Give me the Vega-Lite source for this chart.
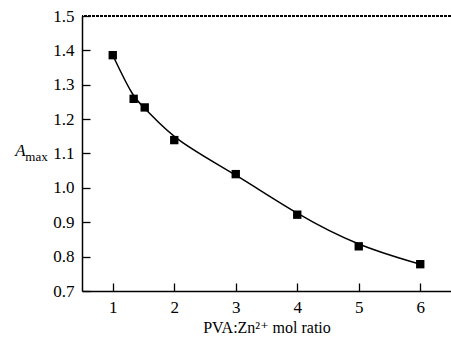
{
  "$schema": "https://vega.github.io/schema/vega-lite/v6.json",
  "width": 369,
  "height": 275,
  "autosize": {"type": "none"},
  "padding": {"left": 82, "top": 16, "right": 0, "bottom": 47},
  "background": "white",
  "config": {
    "view": {"stroke": null},
    "font": "Liberation Serif, DejaVu Serif, serif",
    "axis": {
      "grid": false,
      "ticks": true,
      "tickSize": -8,
      "tickColor": "black",
      "tickWidth": 1.3,
      "tickOpacity": 1,
      "domainColor": "black",
      "domainWidth": 1.5,
      "labelColor": "black",
      "titleColor": "black",
      "labelFont": "Liberation Serif, DejaVu Serif, serif",
      "titleFont": "Liberation Serif, DejaVu Serif, serif",
      "labelFontSize": 17,
      "titleFontSize": 16,
      "titleFontWeight": "normal",
      "labelPadding": 16
    }
  },
  "data": {
    "values": [
      {"ratio": 1.0, "amax": 1.386},
      {"ratio": 1.34, "amax": 1.259},
      {"ratio": 1.52, "amax": 1.234},
      {"ratio": 2.0, "amax": 1.139},
      {"ratio": 3.0, "amax": 1.04},
      {"ratio": 4.0, "amax": 0.922},
      {"ratio": 5.0, "amax": 0.83},
      {"ratio": 6.0, "amax": 0.778}
    ]
  },
  "layer": [
    {
      "mark": {"type": "line", "color": "black", "strokeWidth": 1.5, "interpolate": "basis"},
      "encoding": {
        "x": {
          "field": "ratio",
          "type": "quantitative",
          "scale": {"domain": [0.5, 6.5], "nice": false, "zero": false},
          "axis": {
            "values": [1, 2, 3, 4, 5, 6],
            "format": "d",
            "title": "PVA:Zn²⁺ mol ratio",
            "titlePadding": 4
          }
        },
        "y": {
          "field": "amax",
          "type": "quantitative",
          "scale": {"domain": [0.7, 1.5], "nice": false, "zero": false},
          "axis": {
            "values": [0.7, 0.8, 0.9, 1.0, 1.1, 1.2, 1.3, 1.4, 1.5],
            "format": ".1f",
            "title": "A",
            "titleFontStyle": "italic",
            "titleFontSize": 17,
            "titleAngle": 0,
            "titleX": -62,
            "titleY": 143,
            "titleAlign": "center"
          }
        }
      }
    },
    {
      "mark": {"type": "square", "color": "black", "opacity": 1, "size": 70, "filled": true},
      "encoding": {
        "x": {"field": "ratio", "type": "quantitative"},
        "y": {
          "field": "amax",
          "type": "quantitative",
          "scale": {"domain": [0.7, 1.5], "nice": false, "zero": false},
          "axis": {
            "orient": "left",
            "labels": false,
            "ticks": false,
            "domain": false,
            "grid": false,
            "title": "max",
            "titleFontSize": 13,
            "titleAngle": 0,
            "titleX": -46,
            "titleY": 147,
            "titleAlign": "center"
          }
        }
      }
    },
    {
      "mark": {"type": "rule", "color": "black", "strokeWidth": 1.5, "strokeDash": [3, 1]},
      "encoding": {
        "y": {"datum": 1.5, "type": "quantitative", "scale": {"domain": [0.7, 1.5], "nice": false, "zero": false}, "axis": null}
      }
    }
  ],
  "resolve": {"axis": {"y": "independent"}}
}
